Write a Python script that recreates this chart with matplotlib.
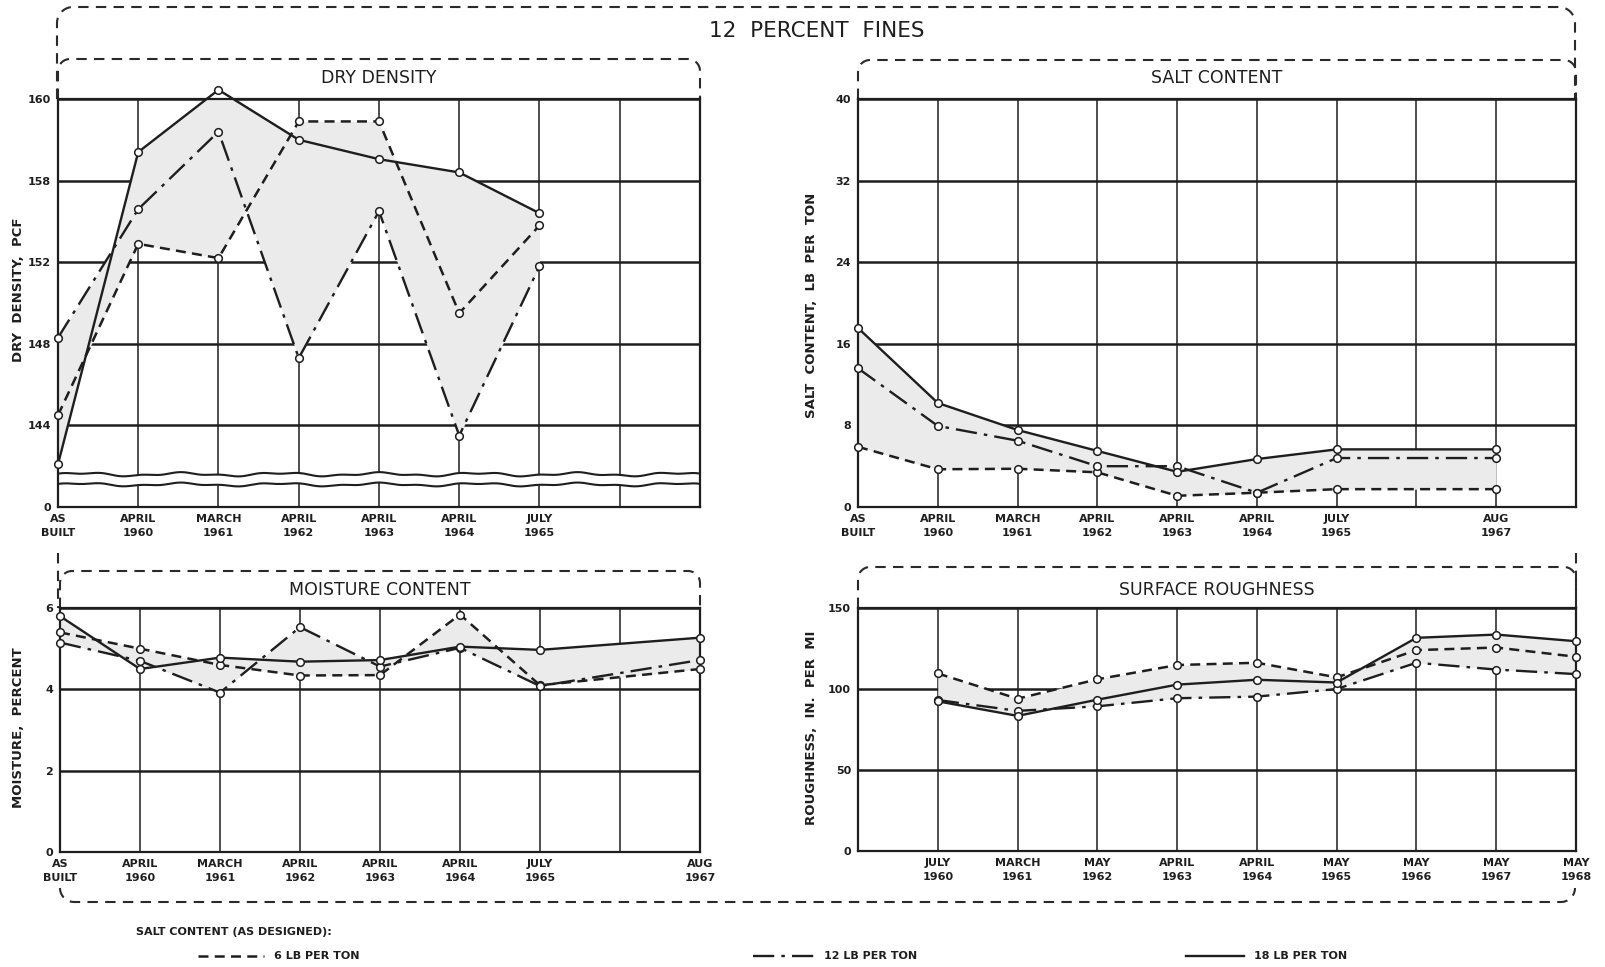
import numpy as np
import matplotlib
matplotlib.use("Agg")
import matplotlib.pyplot as plt

W, H = 1606, 967

# -----------------------------------------------------------------------------
# Data

dd_labels = ["AS\nBUILT", "APRIL\n1960", "MARCH\n1961", "APRIL\n1962",
             "APRIL\n1963", "APRIL\n1964", "JULY\n1965", "", ""]
dd_x = [0, 1, 2, 3, 4, 5, 6]
dd_6 = [144.5, 152.9, 152.2, 158.9, 158.9, 149.5, 153.8]
dd_12 = [148.3, 154.6, 158.4, 147.3, 154.5, 143.5, 151.8]
dd_18 = [142.1, 157.4, 160.45, 158.0, 157.05, 156.4, 154.4]
dd_yticks = [140, 144, 148, 152, 156, 160]
dd_yticklabels = ["0", "144", "148", "152", "158", "160"]

sc_labels = ["AS\nBUILT", "APRIL\n1960", "MARCH\n1961", "APRIL\n1962",
             "APRIL\n1963", "APRIL\n1964", "JULY\n1965", "", "AUG\n1967", ""]
sc_x = [0, 1, 2, 3, 4, 5, 6, 8]
sc_6 = [5.9, 3.7, 3.75, 3.4, 1.1, 1.4, 1.75, 1.75]
sc_12 = [13.6, 7.95, 6.5, 4.0, 4.0, 1.4, 4.8, 4.8]
sc_18 = [17.55, 10.2, 7.55, 5.5, 3.45, 4.7, 5.65, 5.65]
sc_yticks = [0, 8, 16, 24, 32, 40]

mc_labels = ["AS\nBUILT", "APRIL\n1960", "MARCH\n1961", "APRIL\n1962",
             "APRIL\n1963", "APRIL\n1964", "JULY\n1965", "", "AUG\n1967"]
mc_x = [0, 1, 2, 3, 4, 5, 6, 8]
mc_6 = [5.4, 5.0, 4.6, 4.34, 4.35, 5.84, 4.1, 4.5]
mc_12 = [5.15, 4.7, 3.92, 5.53, 4.56, 5.02, 4.08, 4.72]
mc_18 = [5.8, 4.5, 4.78, 4.68, 4.72, 5.05, 4.97, 5.27]
mc_yticks = [0, 2, 4, 6]

sr_labels = ["", "JULY\n1960", "MARCH\n1961", "MAY\n1962", "APRIL\n1963",
             "APRIL\n1964", "MAY\n1965", "MAY\n1966", "MAY\n1967", "MAY\n1968"]
sr_x = [1, 2, 3, 4, 5, 6, 7, 8, 9]
sr_6 = [109.6, 94, 106, 114.8, 116.2, 107.2, 124, 125.6, 119.9]
sr_12 = [93.2, 86.5, 89.3, 94.3, 95.3, 100, 116.2, 112, 109.2]
sr_18 = [92.4, 83.4, 93.4, 102.7, 105.7, 104, 131.6, 133.6, 129.5]
sr_yticks = [0, 50, 100, 150]

legend_labels = ["6 LB PER TON", "12 LB PER TON", "18 LB PER TON"]

# -----------------------------------------------------------------------------
# Styles

INK = "#1e1e1e"
FILL = "#ebebeb"
STYLES = [
    dict(ls=(0, (4, 2.5)), lw=1.8),          # 6 lb
    dict(ls=(0, (9, 3, 1.5, 3)), lw=1.7),    # 12 lb
    dict(ls="-", lw=1.7),                    # 18 lb
]
TICK_FONT = dict(fontsize=8, fontweight="bold", color=INK)

plt.rcParams["font.family"] = ["DejaVu Sans"]

fig = plt.figure(figsize=(W / 100, H / 100), dpi=100)


def px_axes(left, top, right, bottom, **kw):
    return fig.add_axes([left / W, 1 - bottom / H, (right - left) / W, (bottom - top) / H], **kw)


def draw_panel(ax, x, series, ncols, ylim, yticks, yticklabels, xlabels):
    # shaded envelope between the three curves
    xs = np.linspace(x[0], x[-1], 600)
    ys = np.array([np.interp(xs, x, s) for s in series])
    ax.fill_between(xs, ys.min(axis=0), ys.max(axis=0), color=FILL, lw=0, zorder=1)

    for s, st in zip(series, STYLES):
        ax.plot(x, s, color=INK, marker="o", ms=5.5, mfc="white", mec=INK,
                mew=1.1, zorder=4, clip_on=False, **st)

    ax.set_xlim(0, ncols)
    ax.set_ylim(*ylim)
    ax.set_xticks(range(ncols + 1))
    ax.set_xticklabels(xlabels, linespacing=1.45, **TICK_FONT)
    ax.set_yticks(yticks)
    ax.set_yticklabels(yticklabels, **TICK_FONT)
    ax.tick_params(length=0, pad=5)
    ax.xaxis.grid(True, color=INK, lw=1.1)
    ax.yaxis.grid(True, color=INK, lw=1.8)
    ax.set_axisbelow(True)
    for sp in ax.spines.values():
        sp.set_color(INK)
        sp.set_linewidth(1.6)


# -----------------------------------------------------------------------------
# Panels

ax_dd = px_axes(58, 99, 700, 507)
draw_panel(ax_dd, dd_x, [dd_6, dd_12, dd_18], 8, (140, 160),
           dd_yticks, dd_yticklabels, dd_labels)
# axis break between 0 and 144
xw = np.linspace(0, 8, 400)
wave = 0.07 * np.sin(xw * 5.1) + 0.04 * np.sin(xw * 12.7 + 1.0)
ax_dd.fill_between(xw, 141.1 + wave, 141.6 + wave, color="white", lw=0, zorder=1.5)
ax_dd.plot(xw, 141.6 + wave, color=INK, lw=1.5, zorder=2)
ax_dd.plot(xw, 141.1 + wave * 0.9, color=INK, lw=1.5, zorder=2)

ax_sc = px_axes(858, 99, 1576, 507)
draw_panel(ax_sc, sc_x, [sc_6, sc_12, sc_18], 9, (0, 40),
           sc_yticks, [str(v) for v in sc_yticks], sc_labels)

ax_mc = px_axes(60, 608, 700, 852)
draw_panel(ax_mc, mc_x, [mc_6, mc_12, mc_18], 8, (0, 6),
           mc_yticks, [str(v) for v in mc_yticks], mc_labels)

ax_sr = px_axes(858, 608, 1576, 851)
draw_panel(ax_sr, sr_x, [sr_6, sr_12, sr_18], 9, (0, 150),
           sr_yticks, [str(v) for v in sr_yticks], sr_labels)

# -----------------------------------------------------------------------------
# Overlay for titles, dashed frames and legend (pixel coordinates)

ov = fig.add_axes([0, 0, 1, 1], zorder=-1)
ov.set_xlim(0, W)
ov.set_ylim(H, 0)
ov.axis("off")

DASH = dict(color="#2a2a2a", lw=1.5, ls=(0, (5, 3.5)))


def rounded_top(x0, x1, ytop, ybot, r=12):
    t = np.linspace(np.pi, 1.5 * np.pi, 12)
    left_arc = np.c_[x0 + r + r * np.cos(t), ytop + r + r * np.sin(t)]
    t2 = np.linspace(1.5 * np.pi, 2 * np.pi, 12)
    right_arc = np.c_[x1 - r + r * np.cos(t2), ytop + r + r * np.sin(t2)]
    pts = np.vstack([[x0, ybot], left_arc, right_arc, [x1, ybot]])
    ov.plot(pts[:, 0], pts[:, 1], **DASH)


def rounded_bottom(x0, x1, ybot, ytop, r=12):
    t = np.linspace(np.pi, 0.5 * np.pi, 12)
    left_arc = np.c_[x0 + r + r * np.cos(t), ybot - r + r * np.sin(t)]
    t2 = np.linspace(0.5 * np.pi, 0, 12)
    right_arc = np.c_[x1 - r + r * np.cos(t2), ybot - r + r * np.sin(t2)]
    pts = np.vstack([[x0, ytop], left_arc, right_arc, [x1, ytop]])
    ov.plot(pts[:, 0], pts[:, 1], **DASH)


# outer frame
rounded_top(57, 1575, 7, 99, r=16)
rounded_bottom(60, 1575, 902, 888, r=14)
ov.plot([58, 58], [553, 608], **DASH)
ov.plot([1576, 1576], [553, 608], **DASH)

# panel title boxes
rounded_top(58, 700, 59, 99)
rounded_top(858, 1576, 60, 99)
rounded_top(60, 700, 571, 608)
rounded_top(858, 1576, 567, 608)

ov.text(817, 31, "12  PERCENT  FINES", ha="center", va="center", fontsize=15.5, color=INK)
ov.text(379, 78, "DRY DENSITY", ha="center", va="center", fontsize=12.5, color=INK)
ov.text(1217, 78, "SALT CONTENT", ha="center", va="center", fontsize=12.5, color=INK)
ov.text(380, 590, "MOISTURE CONTENT", ha="center", va="center", fontsize=12.5, color=INK)
ov.text(1217, 590, "SURFACE ROUGHNESS", ha="center", va="center", fontsize=12.5, color=INK)

YL = dict(rotation=90, ha="center", va="center", fontsize=9.5, fontweight="bold", color=INK)
ov.text(19, 290, "DRY  DENSITY,  PCF", **YL)
ov.text(812, 305, "SALT  CONTENT,  LB  PER  TON", **YL)
ov.text(19, 728, "MOISTURE,  PERCENT", **YL)
ov.text(812, 728, "ROUGHNESS,  IN.  PER  MI", **YL)

# legend
ov.text(136, 932, "SALT CONTENT (AS DESIGNED):", ha="left", va="center", **TICK_FONT)
for (xa, xb), lab, st in zip([(198, 264), (753, 814), (1186, 1244)], legend_labels, STYLES):
    ov.plot([xa, xb], [956, 956], color=INK, **st)
    ov.text(xb + 10, 956, lab, ha="left", va="center", **TICK_FONT)

fig.savefig("out.png", dpi=100)
